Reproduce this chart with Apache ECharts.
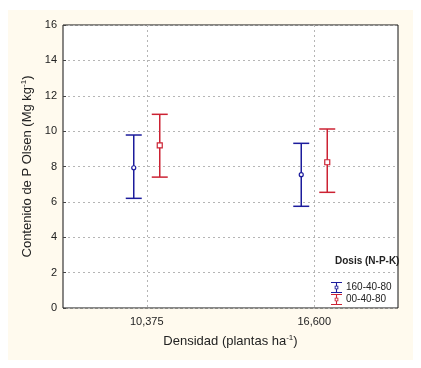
<!DOCTYPE html>
<html>
<head>
<meta charset="utf-8">
<script src="https://cdn.jsdelivr.net/npm/echarts@6/dist/echarts.min.js"></script>
<style>
  html, body { margin: 0; padding: 0; background: #fff; }
  #panel { position: absolute; left: 8px; top: 10px; width: 405px; height: 350px; background: #fffaee; }
  #chart { position: absolute; left: 0; top: 0; width: 421px; height: 368px; }
</style>
</head>
<body>
<div id="panel"></div>
<div id="chart"></div>
<script>
// densidades (eje x)
const densidades = ['10,375', '16,600'];
const dosis = ['160-40-80', '00-40-80'];
// media, limite inferior, limite superior por densidad
const media160 = [7.93, 7.54];
const bajo160 = [6.2, 5.75];
const alto160 = [9.78, 9.31];
const media00 = [9.2, 8.24];
const bajo00 = [7.4, 6.54];
const alto00 = [10.95, 10.12];
const yTicks = [0, 2, 4, 6, 8, 10, 12, 14, 16];

const azul = '#1c1c9c';
const rojo = '#cc2233';

const chart = echarts.init(document.getElementById('chart'));

function serieDatos(media, bajo, alto) {
  return densidades.map((d, i) => [i, bajo[i], media[i], alto[i]]);
}

// dibuja barra de error con marcador
function makeRender(offset, color, marker) {
  return function (params, api) {
    const c = api.coord([api.value(0), api.value(2)]);
    const lo = api.coord([api.value(0), api.value(1)]);
    const hi = api.coord([api.value(0), api.value(3)]);
    const x = c[0] + offset;
    const half = 8;
    const ls = { stroke: color, lineWidth: 1.5 };
    const children = [
      { type: 'line', shape: { x1: x, y1: hi[1], x2: x, y2: lo[1] }, style: ls },
      { type: 'line', shape: { x1: x - half, y1: hi[1], x2: x + half, y2: hi[1] }, style: ls },
      { type: 'line', shape: { x1: x - half, y1: lo[1], x2: x + half, y2: lo[1] }, style: ls }
    ];
    if (marker === 'circle') {
      children.push({ type: 'circle', shape: { cx: x, cy: c[1], r: 2 }, style: { fill: '#fff', stroke: color, lineWidth: 1.2 } });
    } else {
      children.push({ type: 'rect', shape: { x: x - 2.5, y: c[1] - 2.5, width: 5, height: 5 }, style: { fill: '#fff', stroke: color, lineWidth: 1.2 } });
    }
    return { type: 'group', children: children };
  };
}

const iconBar = 'path://M0,0H12V1.2H0Z M5.4,1.2H6.6V4H5.4Z M4,4H8V8H4Z M5,5V7H7V5Z M5.4,8H6.6V10.8H5.4Z M0,10.8H12V12H0Z';
const fuente = 'Liberation Sans, Arial, sans-serif';

const option = {
  animation: false,
  textStyle: { fontFamily: fuente },
  grid: {
    left: 63, right: 23, top: 25, bottom: 60,
    show: true, backgroundColor: '#fff', borderColor: '#111', borderWidth: 1
  },
  title: {
    text: 'Dosis (N-P-K)',
    left: 330, top: 251,
    textStyle: { fontSize: 10, fontWeight: 'bold', color: '#222', fontFamily: fuente }
  },
  legend: {
    orient: 'vertical',
    left: 326, top: 277,
    itemWidth: 13, itemHeight: 11,
    itemGap: 1,
    textStyle: { fontSize: 10, color: '#222', padding: [0, 0, 0, -2] },
    data: [
      { name: dosis[0], icon: iconBar, itemStyle: { color: azul } },
      { name: dosis[1], icon: iconBar, itemStyle: { color: rojo } }
    ]
  },
  xAxis: [
    {
      type: 'category',
      data: densidades,
      boundaryGap: true,
      axisLine: { show: false },
      axisTick: { show: false },
      axisLabel: { fontSize: 11, color: '#222', margin: 8 },
      splitLine: { show: false },
      name: '{a|Densidad (plantas ha}{s|-1}{a|)}',
      nameLocation: 'middle',
      nameGap: 26,
      nameTextStyle: {
        rich: {
          a: { fontSize: 13, color: '#222', fontFamily: fuente },
          s: { fontSize: 8, color: '#222', verticalAlign: 'top', padding: [0, 0, 7, 0], fontFamily: fuente }
        }
      }
    },
    {
      type: 'value',
      min: 0, max: 2, interval: 0.5,
      show: true,
      position: 'bottom',
      axisLine: { show: false },
      axisTick: { show: false },
      axisLabel: { show: false },
      splitLine: { show: true, lineStyle: { type: [2, 3], color: ['rgba(0,0,0,0)', '#b5b5b5'] } }
    }
  ],
  yAxis: {
    type: 'value',
    min: yTicks[0], max: yTicks[yTicks.length - 1], interval: 2,
    axisLine: { show: false },
    axisTick: { show: true, inside: true, length: 3, lineStyle: { color: '#444' } },
    axisLabel: { fontSize: 11, color: '#222', margin: 6 },
    splitLine: { show: true, lineStyle: { type: [2, 3], color: '#b5b5b5' } },
    name: '{a|Contenido de P Olsen (Mg kg}{s|-1}{a|)}',
    nameLocation: 'middle',
    nameGap: 25,
    nameTextStyle: {
      rich: {
        a: { fontSize: 13, color: '#222', fontFamily: fuente },
        s: { fontSize: 8, color: '#222', verticalAlign: 'top', padding: [0, 0, 7, 0], fontFamily: fuente }
      }
    }
  },
  series: [
    {
      name: dosis[0],
      type: 'custom',
      xAxisIndex: 0,
      renderItem: makeRender(-13, azul, 'circle'),
      encode: { x: 0, y: [1, 2, 3] },
      itemStyle: { color: azul },
      data: serieDatos(media160, bajo160, alto160)
    },
    {
      name: dosis[1],
      type: 'custom',
      xAxisIndex: 0,
      renderItem: makeRender(13, rojo, 'rect'),
      encode: { x: 0, y: [1, 2, 3] },
      itemStyle: { color: rojo },
      data: serieDatos(media00, bajo00, alto00)
    }
  ]
};

chart.setOption(option);
</script>
</body>
</html>
